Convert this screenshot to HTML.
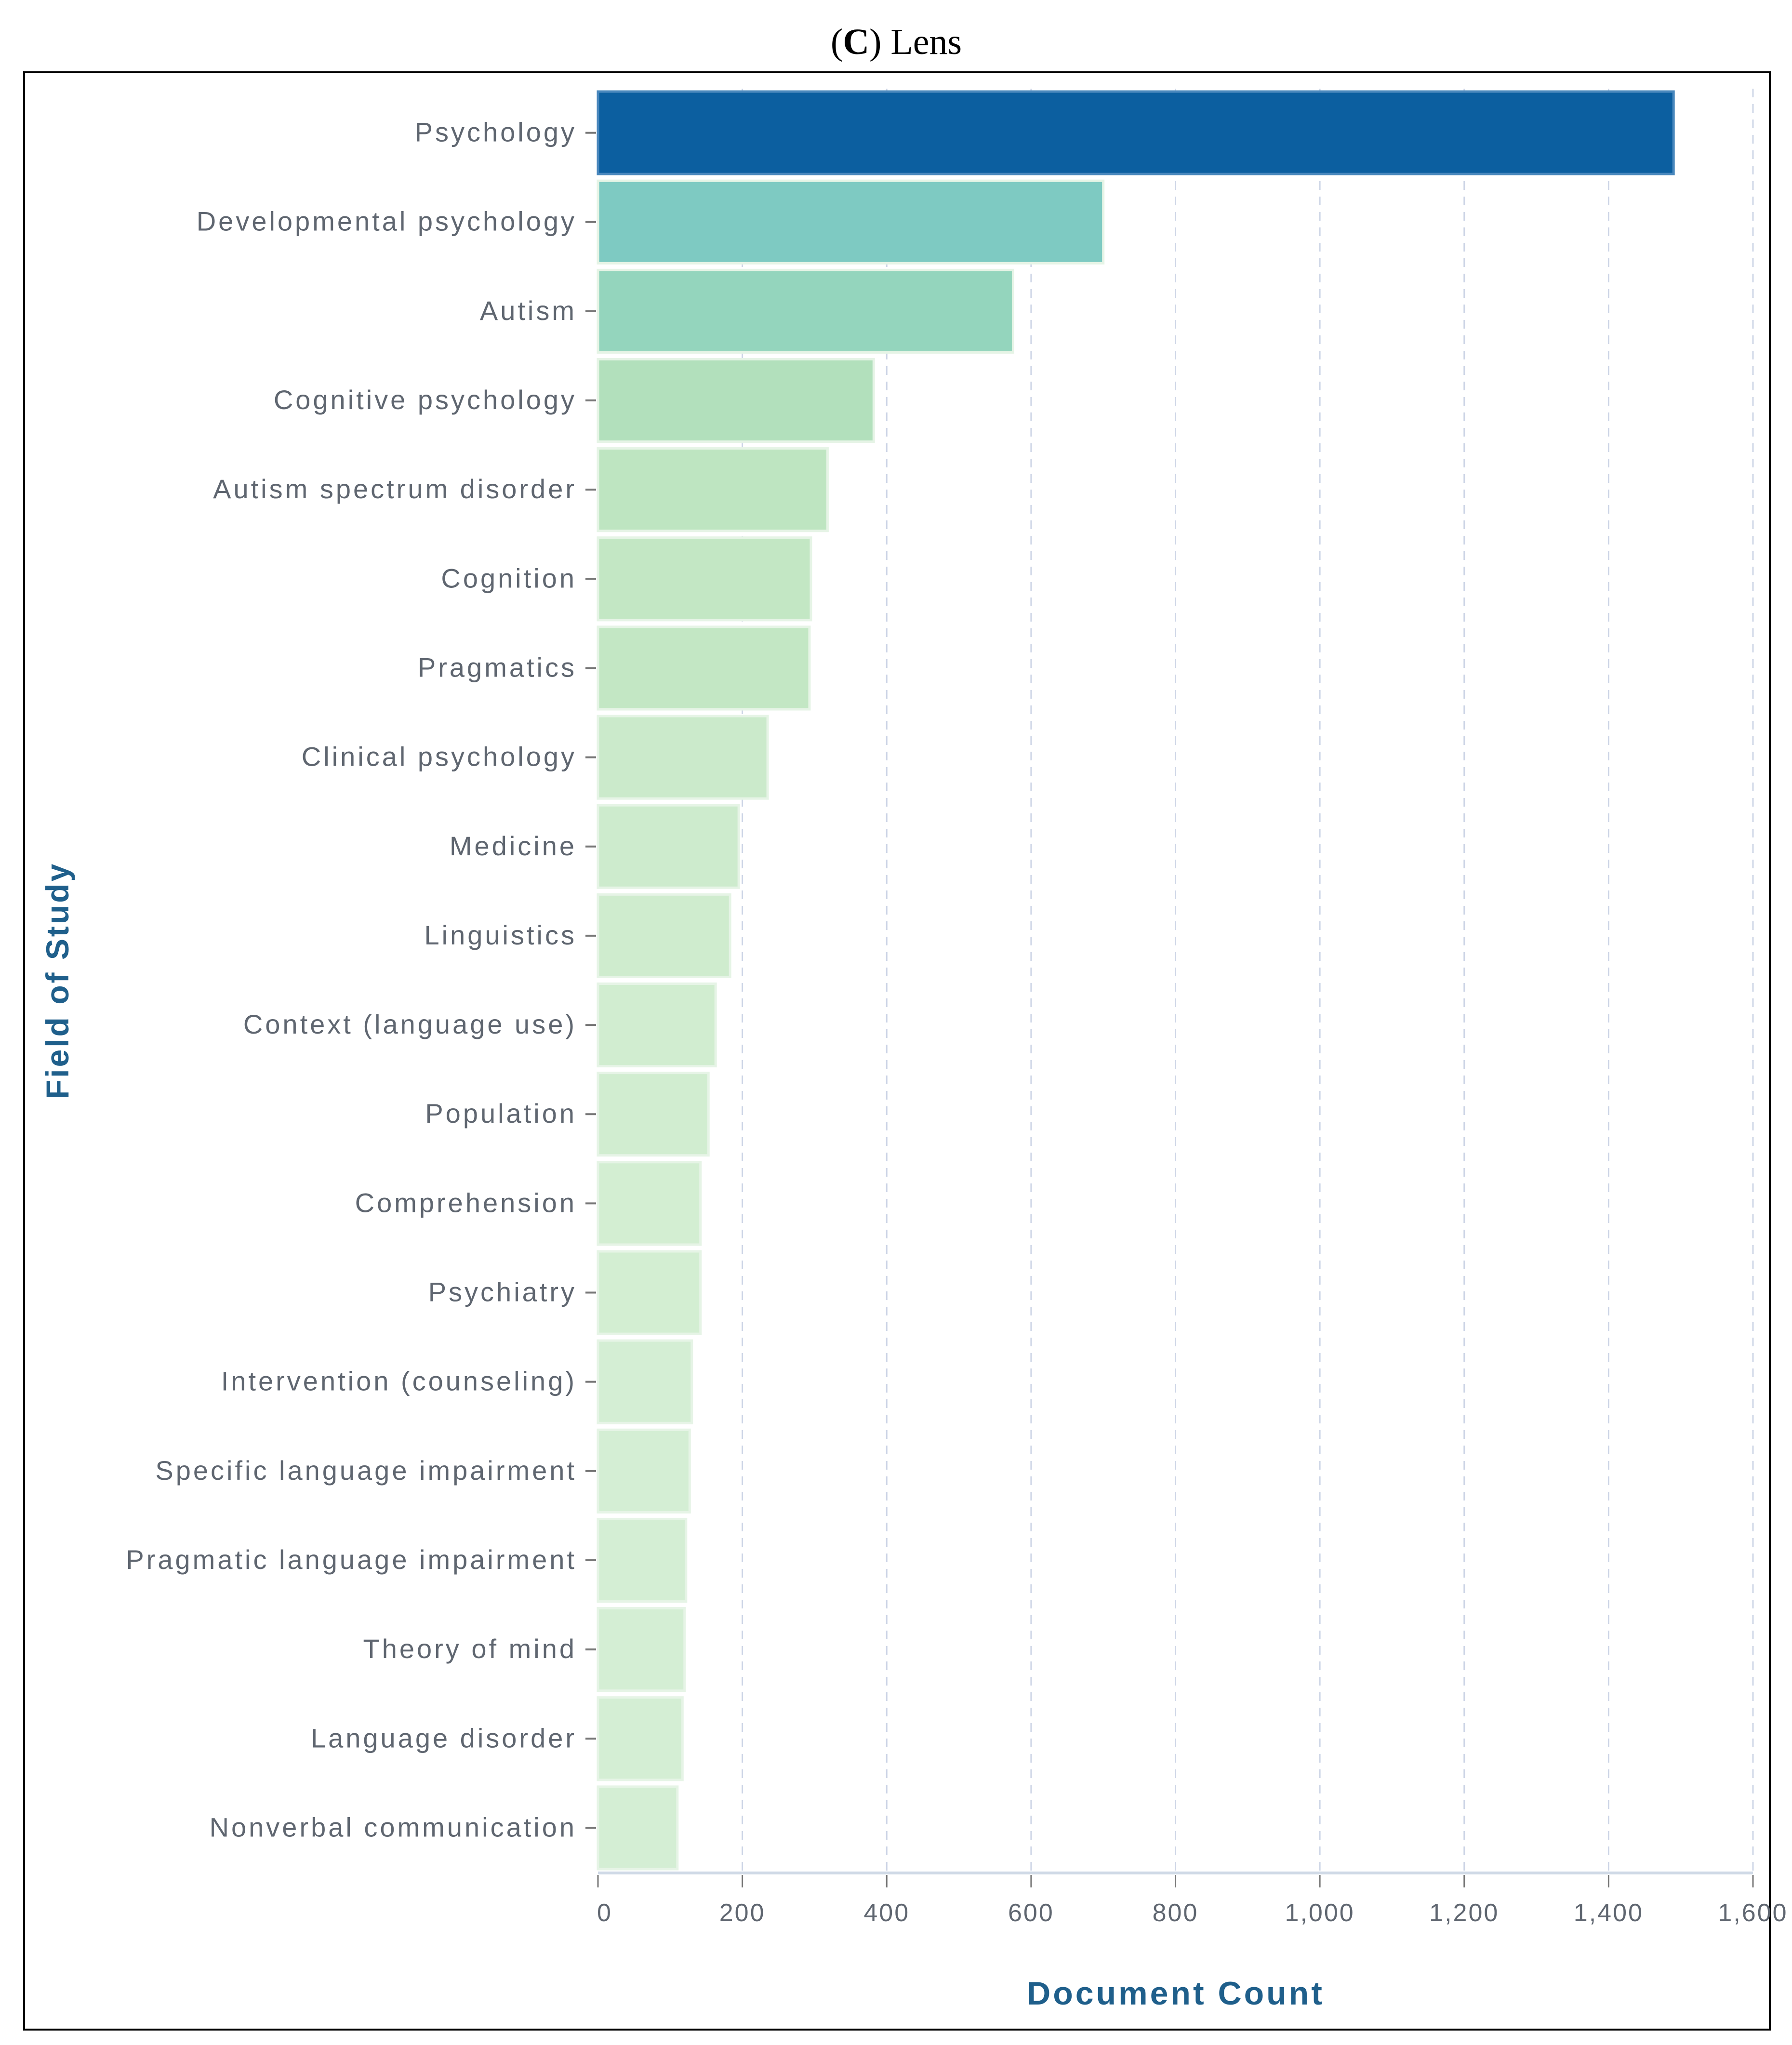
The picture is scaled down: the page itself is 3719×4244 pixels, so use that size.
<!DOCTYPE html>
<html><head><meta charset="utf-8"><style>
html,body{margin:0;padding:0;background:#fff;}
svg{display:block;}
</style></head><body>
<svg id="chart" width="3719" height="4244" xmlns="http://www.w3.org/2000/svg">
<text x="1860" y="112" text-anchor="middle" font-family="Liberation Serif, serif" font-size="76" fill="#000">(<tspan font-weight="bold">C</tspan>) Lens</text>
<rect x="50" y="150" width="3623" height="4062" fill="none" stroke="#000" stroke-width="4"/>
<g id="grid"></g><g id="bars"></g><g id="yaxis"></g><g id="xaxis"></g>
<text transform="translate(142,2035) rotate(-90)" text-anchor="middle" font-family="Liberation Sans, sans-serif" font-weight="bold" font-size="66" letter-spacing="4" fill="#1f5f8b">Field of Study</text>
<text x="2440" y="4160" text-anchor="middle" font-family="Liberation Sans, sans-serif" font-weight="bold" font-size="68" letter-spacing="5" fill="#1f5f8b">Document Count</text>
</svg>
<script>
const categories=["Psychology","Developmental psychology","Autism","Cognitive psychology","Autism spectrum disorder","Cognition","Pragmatics","Clinical psychology","Medicine","Linguistics","Context (language use)","Population","Comprehension","Psychiatry","Intervention (counseling)","Specific language impairment","Pragmatic language impairment","Theory of mind","Language disorder","Nonverbal communication"];
const values=[1490,700,575,382,318,295,293,235,195,183,163,153,142,142,130,127,122,120,117,110];
const colors=["#0c5fa0","#7ecac2","#94d5bd","#b2e0bc","#bee5c1","#c3e7c4","#c3e7c4","#cbeacb","#cdebcd","#cfecce","#d1edd0","#d1edd0","#d3eed2","#d3eed2","#d4eed4","#d4eed4","#d4eed4","#d4eed4","#d4eed4","#d4eed4"];
const ticks=[0,200,400,600,800,1000,1200,1400,1600];
const tickLabels=["0","200","400","600","800","1,000","1,200","1,400","1,600"];
const NS="http://www.w3.org/2000/svg";
const X0=1241,X1=3638,YT=184,YB=3887;
const xs=v=>X0+(v-0)/(1600-0)*(X1-X0);
const band=(YB-YT)/categories.length;
const ys=i=>YT+i*band;
function mk(tag,attrs,parent){const e=document.createElementNS(NS,tag);for(const k in attrs)e.setAttribute(k,attrs[k]);parent.appendChild(e);return e;}
const grid=document.getElementById('grid'),bars=document.getElementById('bars'),ya=document.getElementById('yaxis'),xa=document.getElementById('xaxis');
ticks.forEach((t,i)=>{
  if(i>0){const g=mk('line',{x1:xs(t),x2:xs(t),y1:YT,y2:YB,stroke:'#cdd5e6','stroke-width':3,'stroke-dasharray':'18 14'},grid);
  
  }
  const tk=mk('line',{x1:xs(t),x2:xs(t),y1:YB+4,y2:YB+30,stroke:'#777','stroke-width':3},xa);
  
  
  const tl=mk('text',{x:xs(t)+(i==0?14:0),y:YB+100,'text-anchor':'middle','font-family':'Liberation Sans, sans-serif','font-size':52,'letter-spacing':3,fill:'#5f6670'},xa);
  tl.textContent=tickLabels[i];
  
  
});
const ax=mk('line',{x1:X0,x2:X1,y1:YB,y2:YB,stroke:'#cfd9e6','stroke-width':6},xa);


categories.forEach((c,i)=>{
  const y=ys(i)+6,h=band-14;
  const r=mk('rect',{x:X0,y:y,width:xs(values[i])-X0,height:h,fill:colors[i],stroke:i==0?'#4a88bd':'#e6f4e6','stroke-width':5},bars);
  
  
  const cy=y+h/2;
  const tk=mk('line',{x1:X0-26,x2:X0-4,y1:cy,y2:cy,stroke:'#777','stroke-width':4},ya);
  
  
  const t=mk('text',{x:X0-44,y:cy+18,'text-anchor':'end','font-family':'Liberation Sans, sans-serif','font-size':56,'letter-spacing':5,fill:'#5f6670'},ya);
  t.textContent=c;
  
  
});
</script>
</body></html>
